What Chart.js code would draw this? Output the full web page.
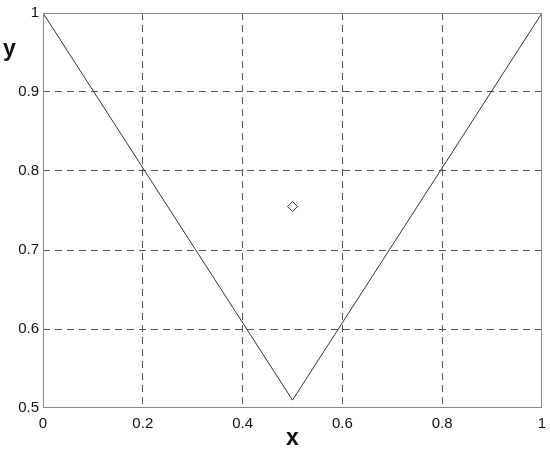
<!DOCTYPE html>
<html><head><meta charset="utf-8">
<script src="https://cdn.jsdelivr.net/npm/chart.js@4/dist/chart.umd.min.js"></script>
<style>html,body{margin:0;padding:0;background:#fff}#wrap{width:550px;height:452px}</style>
</head><body><div id="wrap"><canvas id="c" width="550" height="452"></canvas></div>
<script>
const lineX = [0, 0.5, 1];
const lineY = [1, 0.51, 1];
const markX = [0.5];
const markY = [0.755];
const xTicks = [0, 0.2, 0.4, 0.6, 0.8, 1];
const yTicks = [0.5, 0.6, 0.7, 0.8, 0.9, 1];

const FONT = "'Liberation Sans', Arial, sans-serif";

const yTitle = {
  id: 'yTitle',
  afterDraw(chart) {
    const ctx = chart.ctx;
    ctx.save();
    ctx.font = "bold 23px " + FONT;
    ctx.fillStyle = '#111';
    ctx.textAlign = 'left';
    ctx.textBaseline = 'alphabetic';
    ctx.fillText('y', 3, 56);
    ctx.restore();
  }
};
const frame = {
  id: 'frame',
  afterDatasetsDraw(chart) {
    const a = chart.chartArea, ctx = chart.ctx;
    ctx.save();
    ctx.strokeStyle = '#8a8a8a';
    ctx.lineWidth = 1;
    ctx.strokeRect(a.left + 0.5, a.top + 0.5, a.right - a.left - 1, a.bottom - a.top - 1);
    ctx.restore();
  }
};
const edgeFree = (lo, hi) => c => (c.tick && (c.tick.value === lo || c.tick.value === hi)) ? 'rgba(0,0,0,0)' : '#555';

new Chart(document.getElementById('c'), {
  type: 'scatter',
  data: {
    datasets: [
      {
        data: lineX.map((x, i) => ({x: x, y: lineY[i]})),
        showLine: true,
        borderColor: '#333',
        borderWidth: 1,
        pointRadius: 0,
        fill: false
      },
      {
        data: markX.map((x, i) => ({x: x, y: markY[i]})),
        pointStyle: 'rectRot',
        pointRadius: 5,
        pointBorderColor: '#333',
        pointBackgroundColor: 'rgba(0,0,0,0)',
        pointBorderWidth: 1
      }
    ]
  },
  options: {
    responsive: false,
    animation: false,
    layout: {padding: {top: 13, right: 8, left: 0, bottom: 0}},
    plugins: {legend: {display: false}, tooltip: {enabled: false}},
    scales: {
      x: {
        type: 'linear', min: 0, max: 1,
        afterBuildTicks(s) { s.ticks = xTicks.map(v => ({value: v})); },
        afterFit(s) { s.height = 44; s.paddingRight = 0; s.paddingLeft = 0; },
        border: {display: false, dash: [7, 5]},
        grid: {color: edgeFree(0, 1), lineWidth: 1, drawTicks: false},
        ticks: {
          color: '#111', font: {family: FONT, size: 15}, padding: 7, maxRotation: 0,
          callback: v => String(v)
        },
        title: {display: true, text: 'x', color: '#111', font: {family: FONT, size: 23, weight: 'bold'}, padding: {top: 0, bottom: 0}}
      },
      y: {
        type: 'linear', min: 0.5, max: 1,
        afterBuildTicks(s) { s.ticks = yTicks.map(v => ({value: v})); },
        afterFit(s) { s.width = 43; s.paddingTop = 0; s.paddingBottom = 0; },
        border: {display: false, dash: [7, 5]},
        grid: {color: edgeFree(0.5, 1), lineWidth: 1, drawTicks: false},
        ticks: {
          color: '#111', font: {family: FONT, size: 15}, padding: 4,
          callback: v => String(v)
        }
      }
    }
  },
  plugins: [yTitle, frame]
});
</script></body></html>
